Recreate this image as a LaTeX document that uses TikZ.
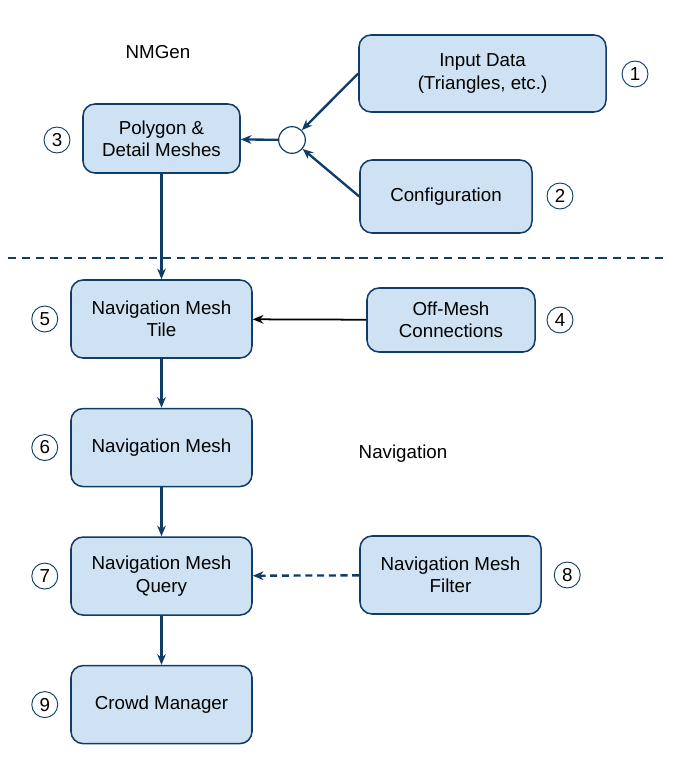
\documentclass[tikz,border=0pt]{standalone}
\usepackage{fontspec}
\setmainfont{Liberation Sans}
\usetikzlibrary{positioning,arrows.meta}
\definecolor{boxfill}{HTML}{CFE2F3}
\definecolor{navy}{HTML}{0F3D68}
\tikzset{
	flow/.style={>={Stealth[length=3.2mm,width=2.6mm]},shorten >=0pt,shorten <=0pt},
	link/.style={->,line width=2pt,draw=navy},
	stage/.style={rectangle,rounded corners=3.6mm,draw=navy,line width=1.3pt,fill=boxfill,
		align=center,font=\fontsize{16}{19}\selectfont,minimum width=5.43cm,minimum height=2.34cm},
	tag/.style={circle,draw=navy,line width=0.8pt,fill=white,inner sep=0pt,minimum size=0.78cm,
		font=\fontsize{16}{19}\selectfont},
	junction/.style={circle,draw=navy,line width=1pt,fill=white,minimum size=0.8cm,inner sep=0pt},
	caption/.style={font=\fontsize{16}{19}\selectfont}
}
\begin{document}
\begin{tikzpicture}[flow,x=0.03cm,y=-0.03cm]
\useasboundingbox (0,0) rectangle (677,766);

% NMGen part
\node[stage,minimum width=7.41cm,minimum height=2.31cm] (input) at (482.5,73.5) {Input Data\\(Triangles, etc.)};
\node[stage,minimum width=5.16cm,minimum height=2.19cm] (config) at (446,196.5) {Configuration};
\node[stage,minimum width=4.71cm,minimum height=2.07cm] (poly) at (161.5,138.5) {Polygon \&\\Detail Meshes};
\node[junction] (join) at (292,140) {};
\node[caption] (nmgen) at (158,52) {NMGen};

% navigation column
\node[stage] (tile) at (161.5,319) {Navigation Mesh\\Tile};
\node[stage] (mesh) [below=1.47cm of tile] {Navigation Mesh};
\node[stage] (query) [below=1.47cm of mesh] {Navigation Mesh\\Query};
\node[stage] (crowd) [below=1.47cm of query] {Crowd Manager};
\node[stage,minimum width=5.04cm,minimum height=1.92cm] (offmesh) at (451,320) {Off-Mesh\\Connections};
\node[stage] (filter) at (450.5,575) {Navigation Mesh\\Filter};
\node[caption] (navlabel) at (403,454) {Navigation};

% numbers
\node[tag] (n1) at (635,74) {1};
\node[tag] (n2) at (560,196) {2};
\node[tag] (n3) at (57,140) {3};
\node[tag] (n4) at (560,320) {4};
\node[tag] (n5) [left=0.36cm of tile] {5};
\node[tag] (n6) [left=0.36cm of mesh] {6};
\node[tag] (n7) [left=0.36cm of query] {7};
\node[tag] (n8) [right=0.36cm of filter] {8};
\node[tag] (n9) [left=0.36cm of crowd] {9};

% divider
\coordinate (sepl) at (8,258);
\coordinate (sepr) at (668,258);
\draw[navy,line width=1.5pt,dash pattern=on 7pt off 5pt] (sepl) -- (sepr);

% connectors
\draw[link] (input.west) -- (join);
\draw[link] (config.west) -- (join);
\draw[link] (join) -- (poly);
\draw[link] (poly) -- (tile);
\draw[link] (tile) -- (mesh);
\draw[link] (mesh) -- (query);
\draw[link] (query) -- (crowd);
\draw[link,draw=black,line width=1.5pt] (offmesh) -- (tile);
\draw[link,dash pattern=on 6pt off 4pt] (filter) -- (query);
\end{tikzpicture}
\end{document}
